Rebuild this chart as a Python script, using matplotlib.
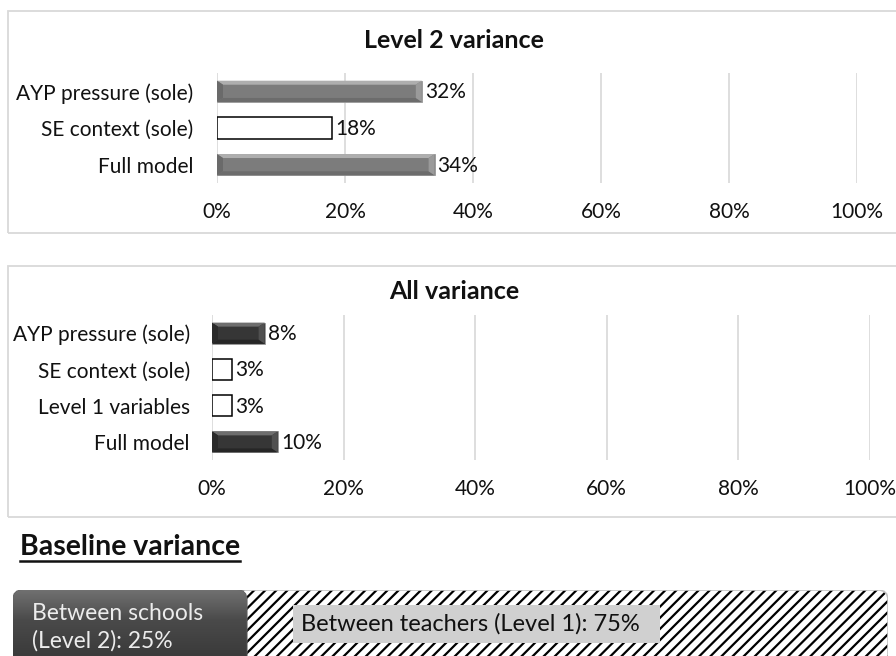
import numpy as np
import matplotlib.pyplot as plt
from matplotlib.colors import LinearSegmentedColormap
from matplotlib.patches import Rectangle, FancyBboxPatch, Polygon

plt.rcParams['font.family'] = ['Lato', 'DejaVu Sans']
plt.rcParams['hatch.linewidth'] = 1.6

# Level 2 variance explained
l2_labels = ['AYP pressure (sole)', 'SE context (sole)', 'Full model']
l2_values = [0.32, 0.18, 0.34]
l2_shaded = [True, False, True]

# All variance explained
all_labels = ['AYP pressure (sole)', 'SE context (sole)', 'Level 1 variables', 'Full model']
all_values = [0.08, 0.03, 0.03, 0.10]
all_shaded = [True, False, False, True]

tick_vals = [0, 0.2, 0.4, 0.6, 0.8, 1.0]
tick_labels = ['0%', '20%', '40%', '60%', '80%', '100%']

# Baseline variance split
baseline_labels = ['Between schools\n(Level 2): 25%', 'Between teachers (Level 1): 75%']
baseline_shares = [0.25, 0.75]

W, H = 896, 656
fig = plt.figure(figsize=(W / 100, H / 100), dpi=100)
FS = 15


def fx(x):
    return x / W


def fy(y):
    return 1 - y / H


def frame(x0, y0, x1, y1):
    fig.add_artist(Rectangle((fx(x0), fy(y1)), (x1 - x0) / W, (y1 - y0) / H,
                             transform=fig.transFigure, fill=False,
                             ec='#d9d9d9', lw=1.3))


gray_style = dict(body='#7c7c7c', top='#aeaeae', bottom='#6c6c6c',
                  left='#6a6a6a', right='#9a9a9a')
dark_style = dict(body='#363636', top='#6e6e6e', bottom='#262626',
                  left='#2a2a2a', right='#505050')


def bevel(ax, bar, st, px_w, px_h):
    # raised "button" look: four trapezoids around the bar body
    x0, y0 = bar.get_x(), bar.get_y()
    x1, y1 = x0 + bar.get_width(), y0 + bar.get_height()
    bx = min(6 / px_w, bar.get_width() / 3)
    by = 4 / px_h
    ix0, ix1, iy0, iy1 = x0 + bx, x1 - bx, y0 + by, y1 - by
    z = bar.get_zorder() + 0.1
    for pts, key in [([(x0, y0), (x1, y0), (ix1, iy0), (ix0, iy0)], 'top'),
                     ([(x0, y1), (x1, y1), (ix1, iy1), (ix0, iy1)], 'bottom'),
                     ([(x0, y0), (ix0, iy0), (ix0, iy1), (x0, y1)], 'left'),
                     ([(x1, y0), (ix1, iy0), (ix1, iy1), (x1, y1)], 'right')]:
        ax.add_patch(Polygon(pts, closed=True, fc=st[key], ec='none', zorder=z))


def panel(left, top, right, bottom, labels, values, shaded, st, title, title_y, ypad):
    ax = fig.add_axes([fx(left), fy(bottom), (right - left) / W, (bottom - top) / H])
    n = len(labels)
    px_w = right - left
    px_h = (bottom - top) / n
    y = np.arange(n)
    bars = ax.barh(y, values, height=0.58, zorder=3)
    for bar, s in zip(bars, shaded):
        if s:
            bar.set_facecolor(st['body'])
            bar.set_edgecolor('#9a9a9a')
            bar.set_linewidth(0.6)
            bevel(ax, bar, st, px_w, px_h)
        else:
            bar.set_facecolor('white')
            bar.set_edgecolor('black')
            bar.set_linewidth(1.1)
    for i, v in enumerate(values):
        ax.text(v + 3 / px_w, i + 0.03, f'{round(v * 100)}%', va='center', ha='left',
                fontsize=FS, color='#111111', zorder=5)
    ax.set_xlim(0, 1)
    ax.set_ylim(n - 0.5, -0.5)
    ax.set_xticks(tick_vals)
    ax.set_xticklabels(tick_labels, fontsize=FS)
    ax.set_yticks(y)
    ax.set_yticklabels(labels, fontsize=FS)
    ax.tick_params(axis='x', length=0, pad=14, colors='#111111')
    ax.tick_params(axis='y', length=0, pad=ypad, colors='#111111')
    ax.xaxis.grid(True, color='#d4d4d4', lw=1.1)
    ax.set_axisbelow(True)
    for sp in ax.spines.values():
        sp.set_visible(False)
    ax.set_facecolor('none')
    fig.text(fx(454), fy(title_y), title, ha='center', va='center',
             fontsize=18, fontweight='bold', color='#111111')
    return ax


frame(8, 11, 905, 233)
frame(8, 266, 905, 517)

panel(217, 73, 857, 183, l2_labels, l2_values, l2_shaded, gray_style,
      'Level 2 variance', 40, 17)
panel(212, 315, 870, 460, all_labels, all_values, all_shaded, dark_style,
      'All variance', 292, 16)

# Baseline variance heading, underlined
head = fig.text(fx(20), fy(547), 'Baseline variance', ha='left', va='center',
                fontsize=20.5, fontweight='bold', color='#111111')
fig.canvas.draw()
hb = head.get_window_extent()
fig.add_artist(plt.Line2D([hb.x0 / W, hb.x1 / W], [fy(561), fy(561)],
                          transform=fig.transFigure, color='#111111', lw=1.8))

# Baseline stacked bar (axes include the rounded-box padding)
bl, br, bt, bbot = 13, 888, 590, 680
rad = 10
inner_w = br - bl - 2 * rad
inner_h = bbot - bt - 2 * rad
pad = rad / inner_w
pady = rad / inner_h
asp = inner_w / inner_h
axb = fig.add_axes([fx(bl), fy(bbot), (br - bl) / W, (bbot - bt) / H])
axb.axis('off')
style = f'round,pad={pad},rounding_size={pad}'

starts = np.concatenate([[0], np.cumsum(baseline_shares)[:-1]])

# teachers share: hatched
t_start, t_width = starts[1], baseline_shares[1]
axb.add_patch(FancyBboxPatch((t_start, 0), t_width, 1, boxstyle=style,
                             mutation_aspect=asp, fc='white', ec='black',
                             lw=0, hatch='///', zorder=1))
axb.add_patch(FancyBboxPatch((t_start, 0), t_width, 1, boxstyle=style,
                             mutation_aspect=asp, fill=False, ec='#c4c4c4',
                             lw=1.2, zorder=2))

# schools share: dark rounded box with a soft highlight
s_start, s_width = starts[0], baseline_shares[0]
school = FancyBboxPatch((s_start, 0), s_width, 1, boxstyle=style,
                        mutation_aspect=asp, fc='#3d3d3d', ec='#666666',
                        lw=1.2, zorder=3)
axb.add_patch(school)
cmap = LinearSegmentedColormap.from_list('shade', ['#707070', '#4a4a4a', '#3d3d3d', '#353535'])
grad = np.linspace(0, 1, 64).reshape(-1, 1)
im = axb.imshow(grad, extent=(s_start - pad, s_start + s_width + pad, -pady, 1 + pady),
                origin='upper', aspect='auto', cmap=cmap, zorder=3.5)
im.set_clip_path(school)
axb.set_xlim(-pad, 1 + pad)
axb.set_ylim(-pady, 1 + pady)


def by_px(y):
    return (bbot - rad - y) / inner_h


axb.text(s_start + 9 / inner_w, by_px(627), baseline_labels[0],
         ha='left', va='center', fontsize=16.5, color='#ececec',
         linespacing=1.35, zorder=5)
axb.text(t_start + 0.075, by_px(624), baseline_labels[1] + '  ',
         ha='left', va='center', fontsize=17, color='#111111', zorder=5,
         bbox=dict(boxstyle='square,pad=0.35', fc='#d0d0d0', ec='none'))

fig.savefig('out.png', dpi=100)
